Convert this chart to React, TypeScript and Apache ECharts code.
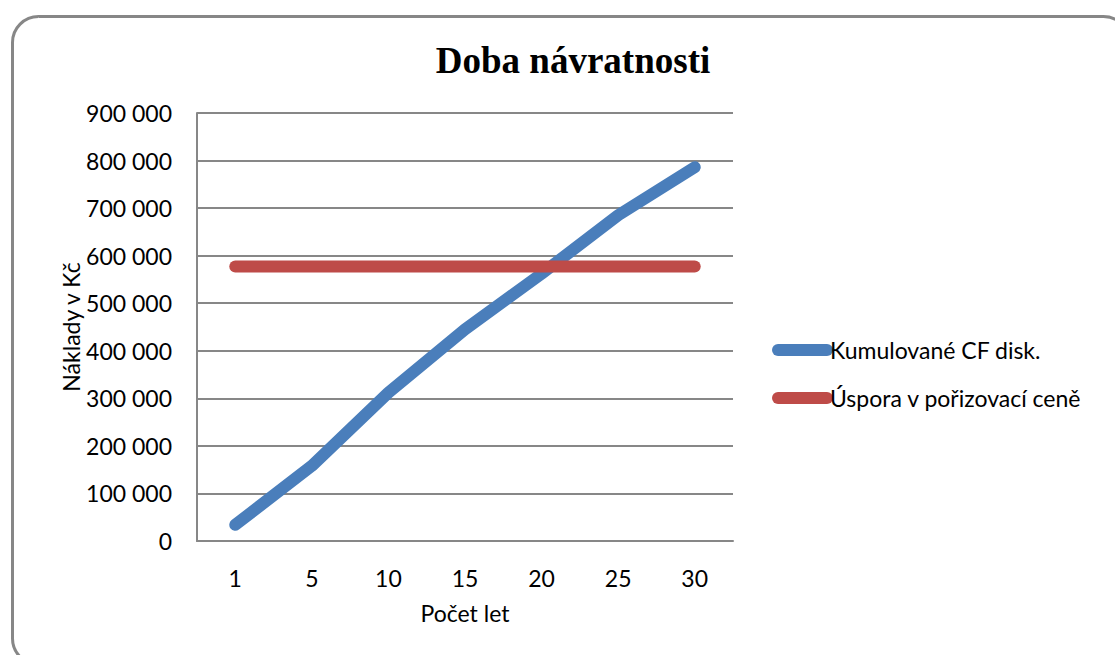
import React, { useEffect, useRef } from 'react';
import * as echarts from 'echarts';

const chartTitle = 'Doba návratnosti';
const xAxisName = 'Počet let';
const yAxisName = 'Náklady v Kč';
const years = ['1', '5', '10', '15', '20', '25', '30'];
const cumulativeCF = [34000, 158000, 312000, 445000, 562000, 685000, 786000];
const savings = [577000, 577000, 577000, 577000, 577000, 577000, 577000];
const seriesNames = ['Kumulované CF disk.', 'Úspora v pořizovací ceně'];
const seriesColors = ['#4A7EBB', '#BE4B48'];

const fmt = (v: number) => String(v).replace(/\B(?=(\d{3})+(?!\d))/g, ' ');

const capsule = 'path://M6,0 L55,0 A6,6 0 0 1 55,12 L6,12 A6,6 0 0 1 6,0 Z';

export default function App() {
  const ref = useRef<HTMLDivElement>(null);
  useEffect(() => {
    if (!ref.current) return;
    const chart = echarts.init(ref.current, null, { renderer: 'svg' });
    const font = 'Lato';
    chart.setOption({
      animation: false,
      backgroundColor: '#ffffff',
      title: {
        text: chartTitle,
        left: 568,
        top: 37,
        textAlign: 'center',
        textStyle: {
          fontFamily: 'Liberation Serif',
          fontWeight: 'bold',
          fontSize: 37,
          color: '#000',
        },
      },
      graphic: [
        {
          type: 'rect',
          shape: { x: 12.5, y: 16.5, width: 1117, height: 648, r: 26 },
          style: { fill: 'none', stroke: '#878787', lineWidth: 3 },
          silent: true,
          z: 10,
        },
      ],
      legend: {
        orient: 'vertical',
        left: 767,
        top: 333,
        itemWidth: 61,
        itemHeight: 12,
        itemGap: 24,
        icon: capsule,
        data: seriesNames,
        textStyle: {
          fontFamily: font,
          fontSize: 23,
          lineHeight: 24,
          color: '#000',
          padding: [0, 0, 0, -8],
        },
      },
      grid: { left: 197, right: 382, top: 113, bottom: 114, containLabel: false },
      xAxis: {
        type: 'category',
        data: years,
        boundaryGap: true,
        name: xAxisName,
        nameLocation: 'middle',
        nameGap: 60,
        nameTextStyle: { fontFamily: font, fontSize: 23, color: '#000' },
        axisLine: { lineStyle: { color: '#878787', width: 2 } },
        axisTick: { show: false },
        axisLabel: { fontFamily: font, fontSize: 23, color: '#000', margin: 25 },
      },
      yAxis: {
        type: 'value',
        min: 0,
        max: 900000,
        interval: 100000,
        name: yAxisName,
        nameLocation: 'middle',
        nameGap: 110,
        nameTextStyle: { fontFamily: font, fontSize: 23, color: '#000' },
        axisLine: { show: true, lineStyle: { color: '#878787', width: 2 } },
        axisTick: { show: false },
        splitLine: { show: true, lineStyle: { color: '#878787', width: 2 } },
        axisLabel: {
          fontFamily: font,
          fontSize: 23,
          color: '#000',
          margin: 25,
          formatter: (v: number) => fmt(v),
        },
      },
      series: [
        {
          name: seriesNames[0],
          type: 'line',
          data: cumulativeCF,
          symbol: 'none',
          color: seriesColors[0],
          lineStyle: { width: 12, color: seriesColors[0], cap: 'round', join: 'round' },
        },
        {
          name: seriesNames[1],
          type: 'line',
          data: savings,
          symbol: 'none',
          color: seriesColors[1],
          lineStyle: { width: 12, color: seriesColors[1], cap: 'round', join: 'round' },
        },
      ],
    });
    return () => chart.dispose();
  }, []);
  return (
    <div
      ref={ref}
      style={{ position: 'fixed', left: 0, top: 0, width: 1115, height: 655 }}
    />
  );
}
